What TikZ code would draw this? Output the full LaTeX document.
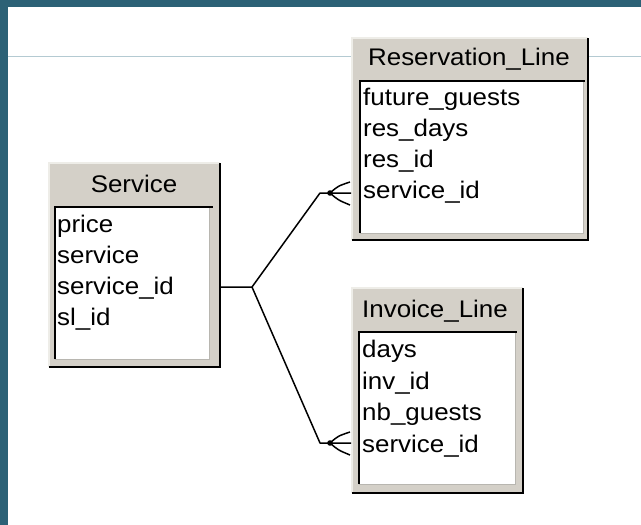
\documentclass[tikz,border=0pt]{standalone}
\usepackage{fontspec}
\setmainfont{Liberation Sans}[FakeStretch=1.08]
\definecolor{bandteal}{HTML}{2C6176}
\definecolor{guideline}{HTML}{B4CAD2}
\definecolor{hdrgray}{HTML}{D4D0C8}
\definecolor{hilite}{HTML}{EEEDE8}
\definecolor{innerrim}{HTML}{B8B6B0}
\tikzset{
  entity/.style={rectangle, draw=none, fill=hdrgray, inner sep=0pt, outer sep=0pt},
  hiedge/.style={draw=hilite, line width=2pt},
  darkedge/.style={draw=black, line width=2pt},
  inneredge/.style={draw=black, line width=2pt},
  innerrimedge/.style={draw=innerrim, line width=1pt},
  title/.style={anchor=base, inner sep=0pt, font=\fontsize{24}{28}\selectfont},
  field/.style={anchor=base west, inner sep=0pt, font=\fontsize{24}{28}\selectfont},
  conn/.style={draw=black, line width=1.5pt, line join=round},
}
\begin{document}
\begin{tikzpicture}[x=1pt,y=-1pt]
\useasboundingbox (0,0) rectangle (641,525);
\fill[white] (0,0) rectangle (641,525);
\fill[bandteal] (0,0) rectangle (641,7);
\fill[bandteal] (0,0) rectangle (8,525);
\draw[guideline, line width=1pt] (8,56) -- (641,56);

% ---------- Service ----------
\node[entity, minimum width=171pt, minimum height=204pt] (svc) at (134.5,265) {};
\draw[hiedge] (49,367) -- (49,163) -- (220,163);
\draw[darkedge] (220,163) -- (220,367) -- (49,367);
\fill[white] (55,207) rectangle (209,359);
\draw[innerrimedge] (209,207) -- (209,359) -- (55,359);
\draw[inneredge] (55,359) -- (55,207) -- (213,207);
\node[title] (svc-t) at (134,192) {Service};
\node[field] (svc-f1) at (57,232) {price};
\node[field] (svc-f2) at (57,263) {service};
\node[field] (svc-f3) at (57,294) {service\_id};
\node[field] (svc-f4) at (57,325) {sl\_id};

% ---------- Reservation_Line ----------
\node[entity, minimum width=236pt, minimum height=202pt] (res) at (470,139) {};
\draw[hiedge] (352,240) -- (352,38) -- (588,38);
\draw[darkedge] (588,38) -- (588,240) -- (352,240);
\fill[white] (360,81) rectangle (583,233);
\draw[innerrimedge] (583,81) -- (583,233) -- (360,233);
\draw[inneredge] (360,233) -- (360,81) -- (585,81);
\node[title] (res-t) at (469,65) {Reservation\_Line};
\node[field] (res-f1) at (363,105) {future\_guests};
\node[field] (res-f2) at (363,136) {res\_days};
\node[field] (res-f3) at (363,167) {res\_id};
\node[field] (res-f4) at (363,198) {service\_id};

% ---------- Invoice_Line ----------
\node[entity, minimum width=171pt, minimum height=205pt] (inv) at (437.5,390.5) {};
\draw[hiedge] (352,493) -- (352,288) -- (523,288);
\draw[darkedge] (523,288) -- (523,493) -- (352,493);
\fill[white] (359,332) rectangle (515,484);
\draw[innerrimedge] (515,332) -- (515,484) -- (359,484);
\draw[inneredge] (359,484) -- (359,332) -- (517,332);
\node[title] (inv-t) at (435,317) {Invoice\_Line};
\node[field] (inv-f1) at (362,357) {days};
\node[field] (inv-f2) at (362,389) {inv\_id};
\node[field] (inv-f3) at (362,420) {nb\_guests};
\node[field] (inv-f4) at (362,452) {service\_id};

% ---------- connectors ----------
\coordinate (svcport) at (221,287);
\coordinate (fork) at (252,287);
\coordinate (resbend) at (320,193);
\coordinate (resdot) at (330,193);
\coordinate (resport) at (351,193);
\coordinate (resup) at (350,182);
\coordinate (reslow) at (350,205);
\coordinate (invbend) at (320,443);
\coordinate (invdot) at (330,443);
\coordinate (invport) at (351,443);
\coordinate (invup) at (350,432);
\coordinate (invlow) at (350,455);

\draw[conn] (svcport) -- (fork) -- (resbend) -- (resport);
\draw[conn] (fork) -- (invbend) -- (invport);
\draw[conn] (resdot) .. controls (338,186) .. (resup);
\draw[conn] (resdot) .. controls (338,200) .. (reslow);
\draw[conn] (invdot) .. controls (338,436) .. (invup);
\draw[conn] (invdot) .. controls (338,450) .. (invlow);
\fill (resdot) circle (2.8);
\fill (invdot) circle (2.8);
\end{tikzpicture}
\end{document}
